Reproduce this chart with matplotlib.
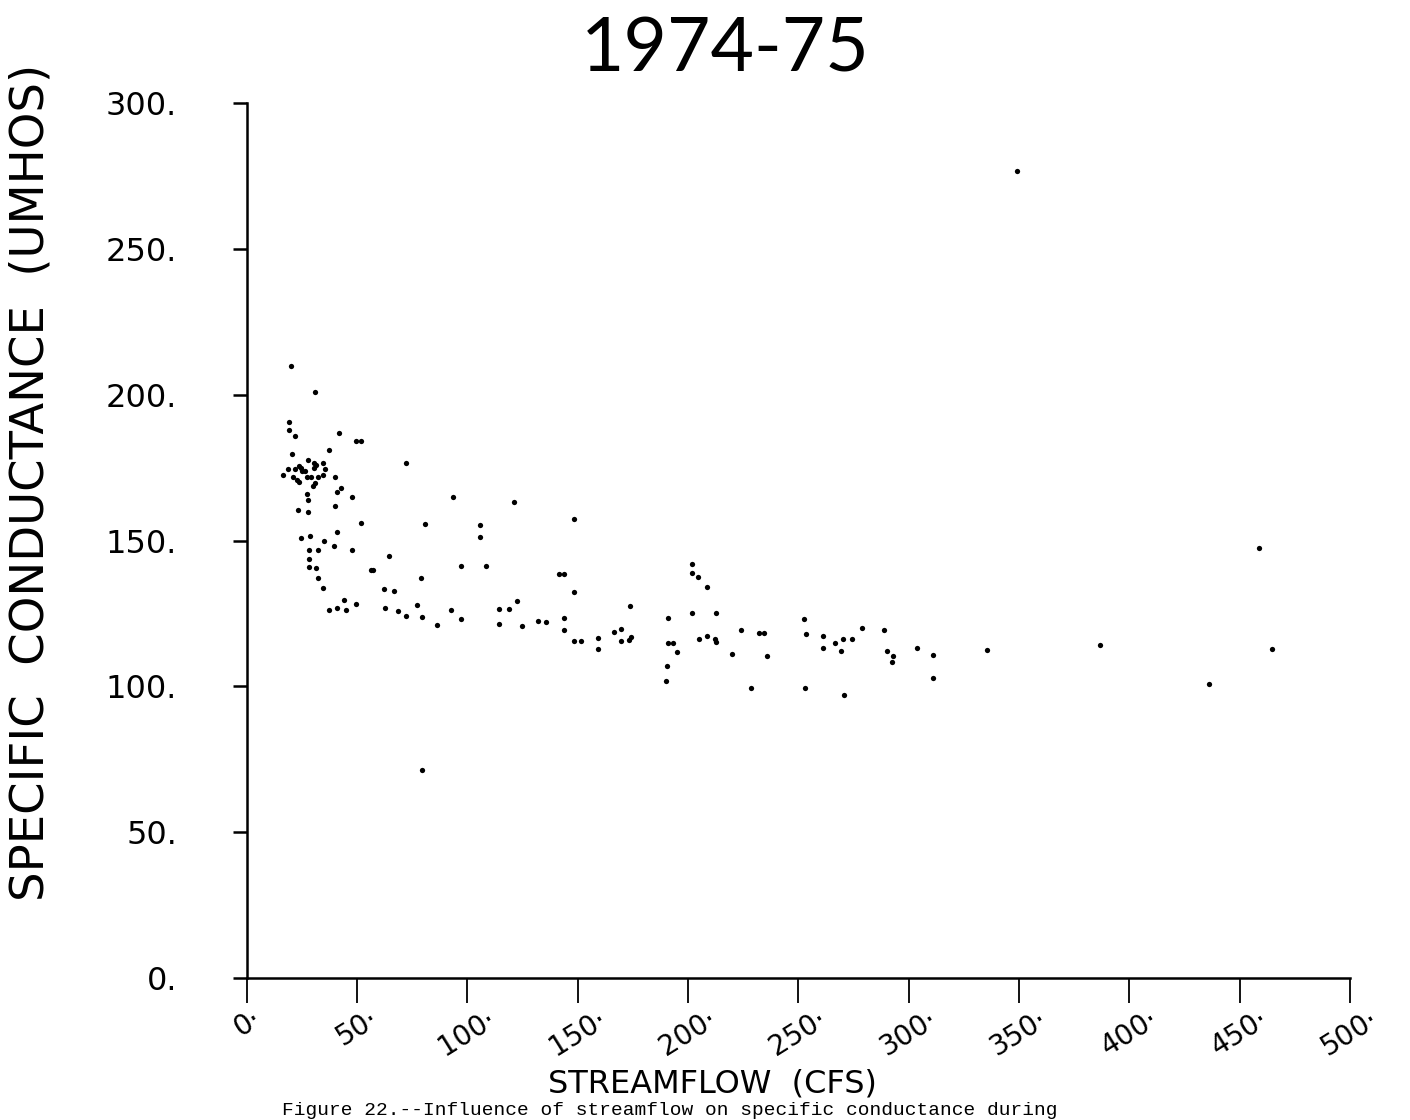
import matplotlib
matplotlib.use("Agg")
import matplotlib.pyplot as plt

streamflow = [20.1, 30.9, 19.1, 19.1, 21.8, 41.6, 49.3, 51.6, 37.2, 20.6, 27.7, 30.7, 31.4, 34.5,
              23.6, 24.5, 25.1, 18.6, 21.8, 35.4, 26.6, 30.7, 16.6, 21.0, 27.4, 28.9, 32.2, 34.5,
              40.2, 22.8, 23.9, 30.9, 30.1, 40.7, 42.5, 47.5, 27.1, 27.8, 39.8, 23.4, 27.8, 72.0,
              51.7, 81.0, 93.6, 121.0, 105.6, 105.6, 40.7, 24.5, 28.6, 35.2, 39.5, 28.4, 32.4,
              47.6, 64.4, 28.4, 28.1, 31.6, 56.1, 57.3, 97.0, 108.3, 79.2, 32.4, 34.6, 62.3, 66.7,
              44.2, 49.6, 37.5, 40.7, 45.2, 62.5, 68.4, 72.3, 77.3, 79.5, 86.2, 92.6, 97.0, 114.3,
              119.0, 122.4, 114.2, 124.6, 132.0,
              148.5, 141.3, 144.0, 148.5, 201.7, 201.7, 204.6, 208.6, 173.9, 190.8, 201.7, 212.9,
              135.5, 143.8, 143.8, 148.5, 151.4, 159.3, 159.3, 166.5, 169.8, 169.8, 173.3, 174.1,
              190.8, 193.0, 195.2, 190.3, 190.1, 205.0, 208.6, 212.1, 212.9, 224.0, 219.9, 228.7,
              232.0, 234.3, 235.8, 252.4, 253.4, 253.0, 261.3, 261.3, 266.5, 269.4, 270.1, 270.6,
              274.4, 279.0, 288.6, 290.2, 293.1, 292.3, 304.0, 311.1, 311.1,
              335.4, 386.5, 459.0, 464.6, 436.3, 349.0, 79.6]
conductance = [210.0, 201.0, 190.7, 188.0, 185.8, 187.0, 184.0, 184.0, 181.0, 179.6, 177.7, 176.7,
               175.9, 176.7, 175.6, 174.7, 173.8, 174.5, 174.5, 174.5, 173.7, 174.7, 172.4, 171.9,
               171.9, 171.9, 171.9, 172.4, 171.9, 170.7, 169.9, 169.8, 168.7, 166.7, 167.9, 164.8,
               165.8, 163.8, 162.0, 160.4, 159.8, 176.5, 155.9, 155.7, 165.0, 163.3, 155.4, 151.3,
               153.0, 150.7, 151.5, 149.7, 148.0, 146.7, 146.7, 146.8, 144.7, 143.6, 140.8, 140.7,
               139.9, 139.9, 141.2, 141.3, 137.0, 137.1, 133.8, 133.5, 132.7, 129.6, 128.2, 126.2,
               127.0, 126.2, 126.8, 125.8, 124.0, 127.9, 123.9, 120.9, 126.2, 123.1, 126.5, 126.5,
               129.3, 121.4, 120.7, 122.4,
               157.5, 138.5, 138.5, 132.4, 142.0, 139.0, 137.5, 134.0, 127.7, 123.6, 125.1, 125.2,
               121.9, 123.4, 119.4, 115.6, 115.6, 116.7, 112.7, 118.7, 119.5, 115.7, 116.0, 116.8,
               114.7, 114.7, 111.8, 107.0, 101.8, 116.1, 117.4, 116.2, 115.2, 119.3, 111.2, 99.4,
               118.3, 118.3, 110.3, 123.1, 118.0, 99.3, 117.2, 113.0, 114.9, 112.1, 116.1, 97.0,
               116.2, 120.0, 119.2, 112.2, 110.4, 108.3, 113.3, 110.7, 102.7,
               112.6, 114.2, 147.5, 112.7, 100.9, 276.8, 71.3]

x_ticks = [0, 50, 100, 150, 200, 250, 300, 350, 400, 450, 500]
x_tick_labels = ["0·", "50·", "100·", "150·", "200·", "250·", "300·", "350·", "400·", "450·", "500·"]
y_ticks = [0, 50, 100, 150, 200, 250, 300]
y_tick_labels = ["0.", "50.", "100.", "150.", "200.", "250.", "300."]

fig = plt.figure(figsize=(14.1, 11.2), dpi=100)
ax = fig.add_axes([0.175, 0.1268, 0.7824, 0.7812])

ax.plot(streamflow, conductance, 'o', color='black', markersize=3.8, markeredgewidth=0)

ax.set_xlim(0, 500)
ax.set_ylim(0, 300)
for s in ['top', 'right']:
    ax.spines[s].set_visible(False)
for s in ['left', 'bottom']:
    ax.spines[s].set_linewidth(1.8)

ax.set_xticks(x_ticks)
ax.set_xticklabels(x_tick_labels, rotation=32, ha='center', fontsize=20)
ax.set_yticks(y_ticks)
ax.set_yticklabels(y_tick_labels, fontsize=23)
ax.tick_params(axis='x', direction='out', length=18, width=1.3, pad=1)
ax.tick_params(axis='y', direction='out', length=10, width=1.8, pad=40)

fig.text(0.022, 0.569, "SPECIFIC  CONDUCTANCE  (UMHOS)", fontsize=33.5, rotation=90,
         ha='center', va='center')
fig.text(0.505, 0.032, "STREAMFLOW  (CFS)", fontsize=23, ha='center', va='center')

fig.text(0.514, 0.955, "1974-75", fontsize=54, ha='center', va='center', family='Lato')

fig.text(0.2, 0.001, "Figure 22.--Influence of streamflow on specific conductance during",
         fontsize=14, family='Liberation Mono', ha='left', va='bottom')

fig.savefig("out.png", dpi=100)
